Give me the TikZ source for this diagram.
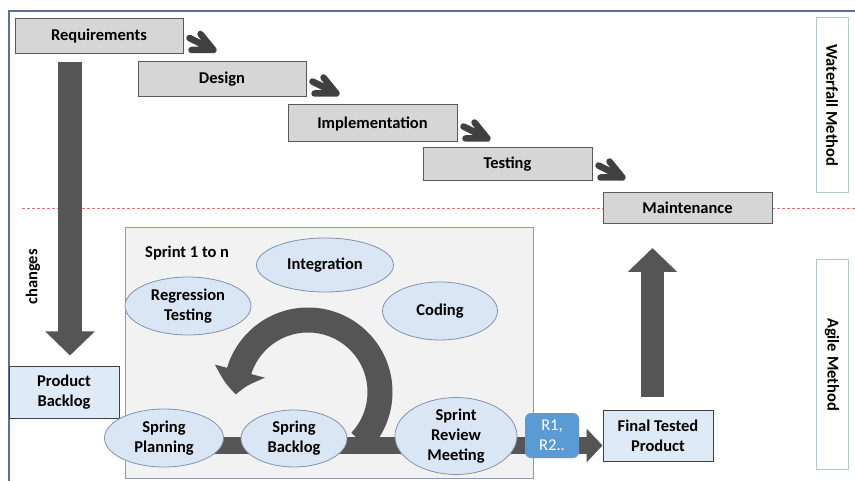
\documentclass[tikz,border=0pt]{standalone}
\usepackage{fontspec}
\setmainfont{Carlito}
\usetikzlibrary{arrows.meta,bending,shapes.geometric}

\definecolor{framecol}{HTML}{5A7394}
\definecolor{wfgray}{HTML}{D6D6D6}
\definecolor{boxline}{HTML}{595959}
\definecolor{arrgray}{HTML}{555555}
\definecolor{chevgray}{HTML}{404040}
\definecolor{ellfill}{HTML}{DAE6F4}
\definecolor{elline}{HTML}{7F93B0}
\definecolor{sprfill}{HTML}{F2F2F2}
\definecolor{sprline}{HTML}{8C9BB0}
\definecolor{pbfill}{HTML}{DEEBF7}
\definecolor{relblue}{HTML}{5B9BD5}
\definecolor{lablinecol}{HTML}{B4C8CF}
\definecolor{sepred}{HTML}{E07070}

\tikzset{
  txt/.style={font=\fontsize{16.5}{20}\selectfont\bfseries, align=center, inner sep=0pt},
  wfbox/.style={txt, draw=boxline, fill=wfgray, line width=1pt, minimum width=168, minimum height=35},
  methodbox/.style={txt, draw=lablinecol, fill=white, line width=1pt, rotate=-90, minimum height=32},
  blbox/.style={txt, draw=chevgray, fill=pbfill, line width=1pt, minimum width=110, minimum height=51},
  task/.style={txt, ellipse, draw=elline, fill=ellfill, line width=0.8pt},
  chev/.style={draw=chevgray, line width=6.5pt, line cap=round, line join=round},
  bigarr/.style={draw=arrgray, line width=24pt, -{Triangle[width=48pt,length=24pt]}},
}

\begin{document}
\begin{tikzpicture}[x=1pt,y=1pt]
\useasboundingbox (0,0) rectangle (855,-481);
% frame and separator
\draw [framecol, line width=1.5pt] (9,-481) -- (9,-11) -- (855,-11);
\draw [sepred, line width=1pt, dash pattern=on 3pt off 2pt] (22,-209) -- (855,-209);
% waterfall
\node [wfbox] (req) at (99,-36) {Requirements};
\node [wfbox] (des) at (222,-79.5) {Design};
\node [wfbox, minimum width=169, minimum height=37] (imp) at (372.5,-123.5) {Implementation};
\node [wfbox, minimum width=169, minimum height=33] (tst) at (507.5,-164.5) {Testing};
\node [wfbox, minimum width=169, minimum height=31] (mnt) at (687.5,-208) {Maintenance};
\foreach \n in {req,des,imp,tst}
  \draw [chev] ([shift={(17,20)}]\n.south east) -- ([shift={(30,4)}]\n.south east) -- ([shift={(8,4)}]\n.south east)
    ([shift={(6,16)}]\n.south east) -- ([shift={(30,4)}]\n.south east);
\node [methodbox, minimum width=175] (wlab) at (832,-105.5) {Waterfall Method};
\node [methodbox, minimum width=209] (alab) at (832,-364.5) {Agile Method};
% changes into the backlog
\node [txt, rotate=90] (chg) at (33,-277) {changes};
\node [blbox] (pb) at (64,-392.5) {Product\\Backlog};
\draw [bigarr] ([xshift=-29,yshift=-8]req.south) -- ([xshift=6,yshift=11]pb.north);
% agile sprint
\node [draw=sprline, fill=sprfill, line width=1pt, minimum width=408, minimum height=250] (spr) at (329,-353) {};
\node [txt, anchor=west] (sprt) at (145,-253) {Sprint 1 to n};
\node [blbox] (fin) at (658,-435.5) {Final Tested\\Product};
\draw [arrgray, line width=17pt, -{Triangle[width=33pt,length=16pt]}] ([yshift=-10]fin.west -| spr.west) -- ([yshift=-10]fin.west);
\node [task, minimum width=137, minimum height=54] (integ) at (325,-265) {Integration};
\node [task, minimum width=126, minimum height=58] (regr) at (188,-306) {Regression\\Testing};
\node [task, minimum width=115, minimum height=58] (cod) at (440,-311) {Coding};
\node [task, minimum width=119, minimum height=58] (splan) at (164,-438) {Spring\\Planning};
\node [task, minimum width=106, minimum height=57] (sback) at (294,-438.5) {Spring\\Backlog};
\node [task, minimum width=122, minimum height=72] (srev) at (456,-436) {Sprint\\Review\\Meeting};
\coordinate (loop) at (308,-392);
\draw [arrgray, line width=25pt, -{Triangle[width=50pt,length=24pt,bend]}] ([shift={(-43:72)}]loop) arc (-43:182:72);
\node [fill=relblue, rounded corners=6pt, minimum width=54, minimum height=45, inner sep=0pt, align=center, text=white, font=\fontsize{16.5}{20}\selectfont] (rel) at (552,-435.5) {R1,\\R2..};
\draw [bigarr, line width=23pt] ([xshift=-5.5,yshift=13]fin.north) -- ([xshift=-35,yshift=-24]mnt.south);
\end{tikzpicture}
\end{document}
